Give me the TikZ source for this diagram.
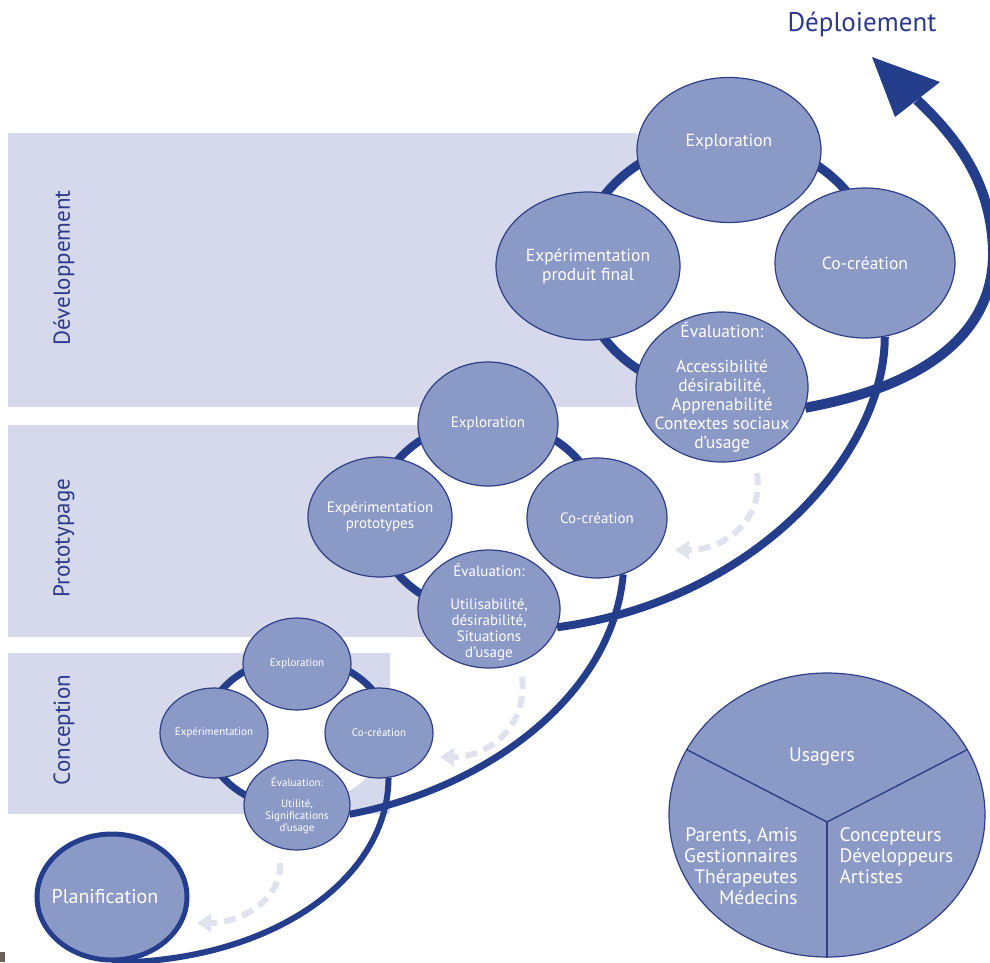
\documentclass[tikz,border=0pt]{standalone}
\usepackage{fontspec}
\setmainfont{PT Sans}
\usetikzlibrary{shapes.geometric,arrows.meta}
\definecolor{navy}{HTML}{243E8C}
\definecolor{navyb}{HTML}{2E3F86}
\definecolor{circfill}{HTML}{8A99C6}
\definecolor{bandc}{HTML}{D6D9EB}
\definecolor{dashc}{HTML}{E0E3EE}
\definecolor{labelc}{HTML}{2B3A8A}
\definecolor{brownish}{HTML}{6B6358}
\pgfdeclarelayer{back}
\pgfdeclarelayer{flows}
\pgfsetlayers{back,flows,main}
\begin{document}
\begin{tikzpicture}[x=1pt,y=-1pt,
  bubble/.style={ellipse, fill=circfill, draw=navyb, line width=1.2pt, inner sep=0pt},
  btext/.style={text=white, align=center, inner sep=0pt},
  fbig/.style={font=\fontsize{17.5}{19}\selectfont},
  fmid/.style={font=\fontsize{15}{16}\selectfont},
  fsmall/.style={font=\fontsize{11}{12}\selectfont},
  bandlabel/.style={rotate=90, text=labelc, font=\fontsize{23}{25}\selectfont},
  flow/.style={draw=navy, line width=8pt},
  ring/.style={draw=navy},
  dasharrow/.style={draw=dashc, line width=6pt, dash pattern=on 12pt off 7pt, -{Triangle[length=14pt,width=18pt]}},
  pietext/.style={text=white, font=\fontsize{19.5}{21}\selectfont}
]
\useasboundingbox (0,0) rectangle (990,962);

\begin{pgfonlayer}{back}
\fill[white] (0,0) rectangle (990,962);
\fill[bandc] (8,133) rectangle (637,407);
\fill[bandc] (8,425) rectangle (530,637);
\fill[bandc] (8,653) rectangle (390,814);
\fill[brownish] (0,952) rectangle (5,962);
\end{pgfonlayer}

\node[bandlabel] (lbl-dev) at (64,268) {Développement};
\node[bandlabel] (lbl-pro) at (64,538) {Prototypage};
\node[bandlabel] (lbl-con) at (64,730) {Conception};

% title
\node[text=labelc, font=\fontsize{27}{29}\selectfont] (title) at (862,24) {Déploiement};

% planification
\node[bubble, line width=5pt, draw=navy, minimum width=150pt, minimum height=126pt,
  label={[btext, font=\fontsize{20}{22}\selectfont, xshift=-7pt]center:Planification}] (plan) at (112,897) {};

% conception cluster
\node[bubble, minimum width=108pt, minimum height=92pt, label={[btext,fsmall]center:Exploration}] (c-exp) at (297,664) {};
\node[bubble, minimum width=108pt, minimum height=90pt, label={[btext,fsmall]center:Co-création}] (c-co) at (379,733) {};
\node[bubble, minimum width=108pt, minimum height=90pt, label={[btext,fsmall]center:Expérimentation}] (c-xp) at (214,733) {};
\node[bubble, minimum width=106pt, minimum height=90pt, label={[btext,fsmall]center:{Évaluation:\\[9pt]Utilité,\\Significations\\d’usage}}] (c-ev) at (297,805) {};

% prototypage cluster
\node[bubble, minimum width=140pt, minimum height=124pt, label={[btext,fmid]center:Exploration}] (p-exp) at (488,424) {};
\node[bubble, minimum width=140pt, minimum height=120pt, label={[btext,fmid]center:Co-création}] (p-co) at (597,518) {};
\node[bubble, minimum width=144pt, minimum height=120pt, label={[btext,fmid]center:{Expérimentation\\prototypes}}] (p-xp) at (380,517) {};
\node[bubble, minimum width=142pt, minimum height=118pt, label={[btext,fmid,yshift=-3pt]center:{Évaluation:\\[17pt]Utilisabilité,\\désirabilité,\\Situations\\d’usage}}] (p-ev) at (489,609) {};

% developpement cluster
\node[bubble, minimum width=184pt, minimum height=145pt, label={[btext,fbig,yshift=8pt]center:Exploration}] (d-exp) at (729,150) {};
\node[bubble, minimum width=180pt, minimum height=150pt, label={[btext,fbig]center:Co-création}] (d-co) at (865,263) {};
\node[bubble, minimum width=184pt, minimum height=148pt, label={[btext,fbig]center:{Expérimentation\\produit final}}] (d-xp) at (588,266) {};
\node[bubble, minimum width=172pt, minimum height=150pt, label={[btext,fbig]center:{Évaluation:\\[16pt]Accessibilité\\désirabilité,\\Apprenabilité\\Contextes sociaux\\d’usage}}] (d-ev) at (722,387) {};

% users pie
\node[bubble, minimum width=316pt, minimum height=284pt] (users) at (827,815) {};
\coordinate (uj) at (827,822);
\draw[navyb, line width=1.4pt] (users.155) -- (uj) -- (users.25);
\draw[navyb, line width=1.4pt] (uj) -- (users.south);
\node[pietext] (u-top) at (822,757) {Usagers};
\node[pietext, align=right, anchor=east] (u-left) at (801,866) {Parents, Amis\\Gestionnaires\\Thérapeutes\\Médecins};
\node[pietext, align=left, anchor=west] (u-right) at (836,856) {Concepteurs\\Développeurs\\Artistes};

% flows and rings behind the bubbles
\begin{pgfonlayer}{flows}
\fill[white] (727,267) ellipse [x radius=148, y radius=128];
\fill[white] (488,517) ellipse [x radius=112, y radius=96];
\fill[white] (297,733) ellipse [x radius=88, y radius=72];
\draw[ring, line width=9pt] (727,267) ++(0:148 and 128) arc[start angle=0, end angle=-270, x radius=148, y radius=128];
\draw[ring, line width=8pt] (488,517) ++(0:112 and 96) arc[start angle=0, end angle=-270, x radius=112, y radius=96];
\draw[ring, line width=7pt] (297,733) ++(0:92 and 75) arc[start angle=0, end angle=-270, x radius=92, y radius=75];

\draw[flow, line width=6pt] (plan.south) .. controls (270,962) and (388,880) .. (c-co.-78);
\draw[flow, line width=7pt] (c-ev.-10) .. controls (480,790) and (612,700) .. (p-co.-65);
\draw[flow, line width=8pt] (p-ev.-15) .. controls (760,600) and (885,450) .. (d-co.-75);
\coordinate (tipbase) at (917,100);
\draw[flow, line width=10pt] (d-ev.-14) .. controls (930,385) and (995,330) .. (993,250) .. controls (991,190) and (965,145) .. (tipbase);
\end{pgfonlayer}
\coordinate (tipA) at (872,57);
\coordinate (tipB) at (940,82);
\coordinate (tipC) at (895,117);
\fill[navy] (tipA) -- (tipB) -- (tipC) -- cycle;

% dashed return arrows
\coordinate (da1) at (757,473); \coordinate (db1) at (675,550);
\coordinate (da2) at (522,677); \coordinate (db2) at (440,757);
\coordinate (da3) at (280,863); \coordinate (db3) at (197,923);
\draw[dasharrow] (da1) .. controls (764,520) and (725,550) .. (db1);
\draw[dasharrow] (da2) .. controls (528,725) and (490,757) .. (db2);
\draw[dasharrow] (da3) .. controls (282,900) and (240,923) .. (db3);
\end{tikzpicture}
\end{document}
